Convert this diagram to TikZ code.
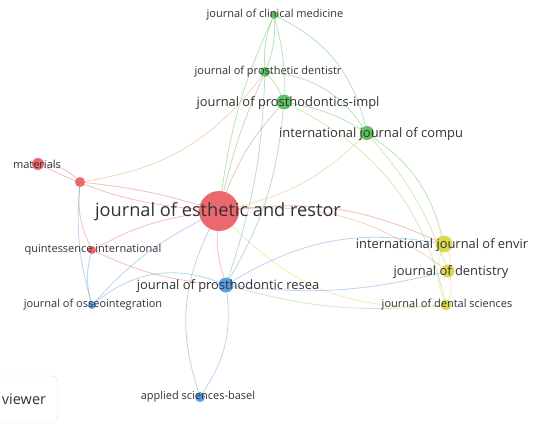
\documentclass[tikz,border=0pt]{standalone}
\usepackage{fontspec}
\setmainfont{Open Sans}
\usetikzlibrary{positioning}
\definecolor{redColor}{RGB}{232,88,94}
\definecolor{greenColor}{RGB}{78,186,78}
\definecolor{blueColor}{RGB}{74,150,222}
\definecolor{yellowColor}{RGB}{216,212,60}
\definecolor{labelColor}{RGB}{50,50,50}
\tikzset{item/.style={circle, inner sep=0pt, draw=none, fill opacity=0.9}}
\tikzset{label text/.style={text=labelColor, inner sep=0pt}}
\tikzset{big/.style={label text, font=\fontsize{18.2}{20}\selectfont}}
\tikzset{mid/.style={label text, font=\fontsize{12.9}{14}\selectfont}}
\tikzset{small/.style={label text, font=\fontsize{11}{12}\selectfont}}
\tikzset{link/.style={line width=0.8pt, draw opacity=0.4}}

\begin{document}
\begin{tikzpicture}[x=1pt, y=-1pt]
	\pgfdeclarelayer{background}
	\pgfdeclarelayer{foreground}
	\pgfsetlayers{background,main,foreground}
	\useasboundingbox (0,0) rectangle (533,425);

	% Nodes
	\node (clinical) [item, fill=greenColor, minimum size=8pt] at (274,15) {};
	\node (prosthetic) [item, fill=greenColor, minimum size=10pt] at (265,72) {};
	\node (implant) [item, fill=greenColor, minimum size=15pt] at (284,102) {};
	\node (computer) [item, fill=greenColor, minimum size=14pt] at (367,133) {};

	\node (materials) [item, fill=redColor, minimum size=12pt] at (38,164) {};
	\node (redsmall) [item, fill=redColor, minimum size=10pt] at (80,182) {};
	\node (esthetic) [item, fill=redColor, minimum size=40pt] at (219,211) {};
	\node (quintessence) [item, fill=redColor, minimum size=8pt] at (92,250) {};

	\node (prosthodontic) [item, fill=blueColor, minimum size=15pt] at (226,285) {};
	\node (osseo) [item, fill=blueColor, minimum size=8pt] at (92,305) {};
	\node (applied) [item, fill=blueColor, minimum size=10pt] at (200,397) {};

	\node (environ) [item, fill=yellowColor, minimum size=17pt] at (444,244) {};
	\node (dentistry) [item, fill=yellowColor, minimum size=13pt] at (448,271) {};
	\node (dental) [item, fill=yellowColor, minimum size=11pt] at (446,305) {};

	\node (viewerbox) [draw=black!12, rounded corners=7pt, minimum width=68pt, minimum height=47pt, font=\fontsize{14.5}{16}\selectfont, text=labelColor] at (24,399.5) {viewer};

	\begin{pgfonlayer}{foreground}
		\node (clinical-l) [small] at (275,15) {journal of clinical medicine};
		\node (prosthetic-l) [small] at (268,72) {journal of prosthetic dentistr};
		\node (implant-l) [mid] at (288,103) {journal of prosthodontics-impl};
		\node (computer-l) [mid] at (371,134) {international journal of compu};
		\node (materials-l) [small] at (37,164) {materials};
		\node (esthetic-l) [big] at (218,212) {journal of esthetic and restor};
		\node (quintessence-l) [small] at (93,250) {quintessence international};
		\node (prosthodontic-l) [mid] at (228,286) {journal of prosthodontic resea};
		\node (osseo-l) [small] at (93,305) {journal of osseointegration};
		\node (applied-l) [small] at (198,397) {applied sciences-basel};
		\node (environ-l) [mid] at (442,245) {international journal of envir};
		\node (dentistry-l) [mid] at (451,272) {journal of dentistry};
		\node (dental-l) [small] at (447,305) {journal of dental sciences};
	\end{pgfonlayer}

	% Connectors
	\begin{pgfonlayer}{background}
	\begin{scope}[link]
		\draw [redColor] (materials) to[bend left=20] (redsmall);
		\draw [redColor] (materials) to[bend right=10] (esthetic);
		\draw [redColor] (redsmall) to[bend left=5] (esthetic);
		\draw [redColor] (redsmall) to[bend right=15] (quintessence);
		\draw [blueColor] (redsmall) to[bend right=10] (osseo);
		\draw [redColor!50!yellowColor] (redsmall) to[bend right=22] (prosthetic);
		\draw [redColor] (quintessence) to[bend left=10] (esthetic);
		\draw [redColor] (quintessence) to[bend right=10] (prosthodontic);
		\draw [redColor] (esthetic) to[bend left=15] (environ);
		\draw [redColor!60!yellowColor] (esthetic) to[bend left=20] (dentistry);
		\draw [yellowColor] (esthetic) to[bend right=25] (dental);
		\draw [redColor!50!greenColor] (esthetic) to[bend left=10] (implant);
		\draw [redColor!50!greenColor] (esthetic) to[bend left=5] (prosthetic);
		\draw [yellowColor!70!redColor] (esthetic) to[bend right=15] (computer);
		\draw [greenColor] (esthetic) to[bend left=8] (clinical);
		\draw [redColor] (esthetic) to[bend right=10] (prosthodontic);

		\draw [blueColor] (osseo) to[bend left=10] (esthetic);
		\draw [blueColor] (osseo) to[bend left=30] (prosthodontic);
		\draw [blueColor] (osseo) to[bend left=15] (quintessence);
		\draw [blueColor] (applied) to[bend right=20] (prosthodontic);
		\draw [redColor!40!blueColor] (applied) to[bend left=22] (esthetic);
		\draw [blueColor!50!greenColor] (prosthodontic) to[bend right=12] (implant);
		\draw [blueColor!50!greenColor] (prosthodontic) to[bend right=8] (prosthetic);
		\draw [blueColor] (prosthodontic) to[bend left=20] (environ);
		\draw [blueColor] (prosthodontic) to[bend right=10] (dentistry);
		\draw [blueColor!40!yellowColor] (prosthodontic) to[bend right=10] (dental);

		\draw [greenColor] (clinical) to[bend right=12] (prosthetic);
		\draw [greenColor] (clinical) to[bend left=12] (prosthetic);
		\draw [greenColor] (clinical) to[bend left=8] (implant);
		\draw [greenColor] (clinical) to[bend left=25] (computer);
		\draw [greenColor] (prosthetic) to[bend left=25] (computer);
		\draw [greenColor] (prosthetic) to[bend left=10] (implant);
		\draw [greenColor] (implant) to[bend left=10] (computer);
		\draw [greenColor] (computer) to[bend left=20] (environ);
		\draw [greenColor!50!yellowColor] (computer) to[bend left=10] (dentistry);
		\draw [greenColor!50!yellowColor] (implant) to[bend left=25] (dental);
		\draw [yellowColor] (environ) to[bend left=20] (dentistry);
		\draw [yellowColor] (dentistry) to[bend left=20] (dental);
		\draw [yellowColor] (environ) to[bend right=20] (dental);
	\end{scope}
	\end{pgfonlayer}
\end{tikzpicture}
\end{document}
